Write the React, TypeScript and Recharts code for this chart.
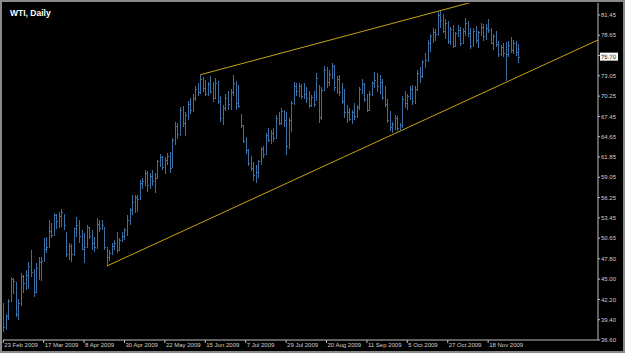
import { ComposedChart, Bar, XAxis, YAxis, ReferenceLine } from "recharts";

// WTI daily bars, 23 Feb 2009 .. early Dec 2009 (one entry per bar)
const opens = [
  40.1, 38.4, 39.9, 42.0, 45.0, 44.5, 40.2, 41.7, 45.4, 44.4,
  45.5, 46.8, 46.0, 43.2, 46.5, 47.4, 47.5, 49.2, 49.5, 51.6,
  51.2, 53.8, 53.0, 53.7, 53.9, 51.3, 48.5, 49.5, 48.4, 52.0,
  52.5, 51.0, 49.2, 49.5, 51.8, 51.0, 50.0, 49.5, 52.6, 52.0,
  52.1, 49.2, 48.0, 48.6, 49.6, 50.0, 49.0, 50.4, 51.0, 51.8,
  53.2, 54.5, 55.6, 56.3, 56.0, 58.3, 58.6, 59.6, 58.0, 59.2,
  58.6, 59.0, 61.3, 61.8, 60.5, 61.5, 62.0, 60.5, 64.2, 66.1,
  65.0, 68.3, 66.5, 67.6, 69.2, 68.4, 70.0, 71.3, 70.8, 72.6,
  71.4, 70.6, 71.9, 71.0, 70.0, 72.1, 69.6, 67.2, 68.6, 70.0,
  69.1, 70.8, 72.0, 69.3, 67.4, 65.9, 64.1, 62.8, 61.0, 60.4,
  59.3, 59.8, 61.3, 62.6, 62.3, 64.9, 64.2, 65.2, 64.5, 67.3,
  66.6, 68.2, 67.0, 63.4, 66.9, 69.3, 71.6, 71.0, 71.7, 70.3,
  70.6, 70.0, 69.0, 70.1, 70.0, 71.6, 67.4, 71.1, 73.9, 72.2,
  73.3, 74.4, 71.5, 72.6, 70.8, 69.6, 68.0, 68.1, 67.1, 68.0,
  67.5, 68.7, 71.2, 71.9, 69.9, 68.3, 70.6, 72.0, 72.5, 71.6,
  72.2, 70.1, 69.2, 66.9, 66.0, 66.4, 67.2, 65.8, 66.2, 69.8,
  69.3, 70.2, 71.3, 69.6, 71.3, 73.4, 73.0, 75.0, 75.2, 77.6,
  78.5, 79.1, 78.8, 81.4, 80.8, 79.3, 80.3, 77.8, 79.5, 77.2,
  78.9, 79.4, 77.6, 79.2, 80.4, 79.0, 77.2, 79.2, 78.0, 79.1,
  79.8, 78.5, 79.6, 79.4, 77.6, 78.5, 77.4, 76.0, 77.0, 76.2,
  76.0, 77.3, 76.6, 77.6, 76.3,
];

const highs = [
  41.7, 40.2, 42.3, 45.3, 45.2, 44.6, 42.3, 45.8, 45.6, 46.3,
  47.3, 49.0, 46.4, 47.2, 48.1, 48.0, 50.7, 50.8, 53.2, 52.7,
  54.1, 54.0, 54.3, 54.7, 54.0, 51.5, 50.0, 49.8, 52.1, 53.6,
  53.2, 51.8, 51.4, 52.5, 52.2, 51.8, 50.8, 53.4, 53.1, 53.2,
  52.2, 49.4, 49.0, 50.0, 50.4, 51.5, 50.7, 51.5, 52.1, 53.9,
  54.8, 56.6, 56.6, 56.6, 58.7, 59.0, 60.0, 59.9, 59.6, 60.0,
  59.6, 61.5, 62.2, 62.0, 61.9, 62.4, 62.6, 64.5, 66.7, 66.6,
  68.8, 68.9, 68.0, 69.6, 70.0, 70.6, 71.6, 72.0, 73.2, 72.9,
  72.5, 72.2, 73.0, 72.2, 72.8, 72.3, 70.2, 69.0, 70.6, 71.0,
  71.2, 73.2, 72.4, 71.8, 67.8, 66.2, 64.6, 62.9, 62.0, 61.1,
  60.8, 61.5, 63.2, 63.3, 65.2, 65.9, 65.6, 65.8, 67.6, 68.0,
  68.6, 68.4, 68.0, 67.3, 69.6, 72.2, 72.0, 72.1, 71.9, 72.1,
  71.5, 70.9, 70.4, 71.0, 73.4, 71.8, 71.5, 74.4, 74.3, 73.8,
  74.8, 74.6, 73.0, 73.1, 72.0, 71.3, 69.0, 68.6, 68.3, 69.3,
  69.0, 71.5, 72.6, 72.1, 70.6, 70.9, 72.4, 73.6, 73.4, 73.1,
  72.6, 71.7, 69.8, 68.2, 66.7, 67.7, 67.5, 66.6, 70.2, 71.0,
  70.6, 71.7, 71.8, 71.6, 73.8, 74.3, 75.2, 76.2, 78.0, 78.8,
  79.6, 79.5, 81.9, 82.0, 81.6, 80.9, 80.6, 79.8, 80.1, 79.1,
  80.0, 79.8, 79.6, 81.0, 80.6, 79.7, 79.6, 79.9, 79.3, 80.3,
  80.2, 80.2, 80.9, 79.6, 78.8, 79.2, 77.8, 77.3, 77.6, 77.7,
  77.8, 78.4, 78.0, 77.9, 77.4,
];

const lows = [
  37.7, 38.0, 39.3, 41.9, 43.0, 39.8, 39.4, 41.3, 43.1, 43.5,
  43.6, 45.3, 42.6, 43.1, 44.9, 44.7, 47.4, 48.6, 49.4, 50.7,
  51.0, 51.9, 52.0, 52.2, 51.8, 48.1, 47.6, 47.4, 48.2, 50.8,
  50.0, 49.0, 47.2, 49.4, 50.6, 49.0, 48.7, 49.2, 51.5, 51.8,
  49.0, 46.8, 47.5, 48.3, 49.0, 48.6, 48.9, 50.1, 50.4, 51.0,
  52.4, 53.9, 54.1, 54.3, 55.9, 57.5, 57.8, 57.0, 57.4, 57.8,
  56.9, 58.8, 60.5, 60.0, 59.5, 60.8, 59.7, 60.3, 63.5, 64.3,
  64.8, 66.0, 64.8, 67.0, 67.8, 68.0, 69.6, 70.3, 70.6, 70.8,
  70.2, 70.3, 70.6, 69.5, 69.8, 69.2, 66.7, 66.2, 68.2, 68.4,
  68.3, 70.2, 68.4, 68.6, 65.9, 63.8, 62.3, 60.6, 59.9, 58.6,
  58.3, 58.9, 60.8, 61.7, 62.2, 63.9, 63.6, 63.9, 64.3, 66.2,
  66.3, 66.0, 62.1, 63.0, 65.3, 69.0, 70.2, 70.1, 69.8, 69.9,
  69.3, 68.6, 68.8, 68.7, 69.6, 66.6, 67.0, 70.9, 71.4, 71.6,
  72.6, 71.0, 70.6, 70.3, 69.2, 67.3, 66.6, 66.8, 66.4, 66.9,
  67.2, 68.3, 70.6, 69.5, 68.0, 68.2, 70.2, 71.4, 70.8, 70.6,
  69.7, 68.8, 66.5, 65.4, 65.1, 65.6, 65.5, 65.6, 65.9, 68.6,
  68.4, 69.7, 69.0, 69.2, 71.0, 72.0, 72.8, 74.2, 75.0, 76.4,
  77.6, 77.9, 78.5, 79.6, 78.9, 78.2, 77.4, 77.3, 76.9, 77.0,
  78.4, 77.2, 77.4, 78.6, 78.4, 76.7, 77.0, 77.6, 76.9, 78.6,
  77.9, 78.0, 79.0, 77.4, 76.6, 77.0, 75.6, 75.8, 75.6, 72.3,
  75.6, 76.2, 76.0, 75.8, 74.8,
];

const closes = [
  38.4, 39.9, 42.0, 45.0, 44.8, 40.2, 41.7, 45.4, 44.4, 45.5,
  46.8, 46.0, 43.2, 46.5, 47.4, 47.5, 49.2, 49.5, 51.6, 51.1,
  53.8, 53.0, 53.7, 54.3, 52.4, 48.4, 49.6, 48.4, 52.0, 52.5,
  51.0, 49.2, 49.4, 52.2, 51.0, 50.0, 49.4, 52.6, 52.0, 52.5,
  49.5, 48.0, 48.6, 49.6, 50.0, 49.0, 50.4, 51.0, 51.8, 53.2,
  54.5, 55.6, 56.3, 56.0, 58.3, 58.6, 59.6, 58.0, 59.2, 58.6,
  59.0, 61.3, 61.8, 60.5, 61.5, 62.0, 60.3, 64.2, 66.1, 65.0,
  68.3, 66.5, 67.6, 69.2, 68.4, 70.0, 71.3, 70.8, 72.6, 71.4,
  70.6, 71.9, 71.0, 70.0, 72.1, 69.6, 67.2, 68.6, 70.0, 69.1,
  70.8, 72.0, 69.3, 68.9, 66.2, 64.1, 62.8, 61.0, 60.4, 59.3,
  59.8, 61.3, 62.9, 62.3, 64.9, 64.2, 65.2, 64.5, 67.3, 66.6,
  68.2, 67.0, 63.4, 66.9, 69.3, 71.6, 71.0, 71.7, 70.3, 70.6,
  70.0, 69.0, 70.1, 69.1, 72.8, 67.4, 71.1, 73.9, 72.2, 73.3,
  74.4, 71.5, 72.6, 70.8, 69.6, 68.0, 68.1, 67.1, 68.0, 67.5,
  68.7, 71.2, 71.9, 69.9, 68.3, 70.6, 72.0, 72.5, 71.6, 72.2,
  70.1, 69.2, 66.9, 66.0, 66.4, 67.2, 65.8, 66.2, 69.8, 69.3,
  70.2, 71.3, 69.6, 71.3, 73.4, 73.0, 75.0, 75.2, 77.6, 78.5,
  79.1, 78.8, 81.4, 80.8, 79.3, 80.3, 77.8, 79.5, 77.2, 78.9,
  79.4, 77.6, 79.2, 80.4, 79.0, 77.2, 79.2, 78.0, 79.1, 79.8,
  78.5, 79.6, 79.4, 77.6, 78.5, 77.4, 76.0, 77.0, 76.2, 76.0,
  77.3, 76.6, 77.6, 76.3, 75.7,
];

// bar index of each date label on the time scale
const dateTickBars = [0, 16, 32, 48, 64, 80, 96, 112, 128, 144, 160, 176, 192];
const dateLabels = [
  "23 Feb 2009", "17 Mar 2009", "8 Apr 2009", "30 Apr 2009", "22 May 2009",
  "15 Jun 2009", "7 Jul 2009", "29 Jul 2009", "20 Aug 2009", "11 Sep 2009",
  "5 Oct 2009", "27 Oct 2009", "18 Nov 2009",
];

const priceTicks = [
  36.6, 39.4, 42.2, 45.0, 47.8, 50.65, 53.45, 56.25, 59.05,
  61.85, 64.65, 67.45, 70.25, 73.05, 75.85, 78.65, 81.45,
];

// trend lines: [bar index, price] anchors
const upperTrend = [
  { bar: 78, price: 73.2 },
  { bar: 190, price: 83.63 },
];
const lowerTrend = [
  { bar: 41, price: 46.8 },
  { bar: 235.5, price: 78.0 },
];

const lastPrice = 75.7;

const data = highs.map((h, i) => ({
  i,
  o: opens[i],
  h,
  l: lows[i],
  c: closes[i],
}));

const FONT = "'Liberation Sans', Arial, sans-serif";
const BAR_COLOR = "#3a70a4";
const TREND_COLOR = "#c4a312";

const OhlcBar = (props: any) => {
  const { x, y, width, height, payload } = props;
  if (x == null || y == null || !payload) return null;
  const top = Math.min(y, y + height);
  const len = Math.abs(height);
  const cx = Math.round(x + (width || 0) / 2) + 0.5;
  const span = payload.h - payload.l || 1;
  const oy = Math.round(top + ((payload.h - payload.o) / span) * len) + 0.5;
  const cy = Math.round(top + ((payload.h - payload.c) / span) * len) + 0.5;
  return (
    <g stroke={BAR_COLOR} strokeWidth={1} shapeRendering="crispEdges">
      <line x1={cx} x2={cx} y1={top} y2={top + len} />
      <line x1={cx - 1} x2={cx} y1={oy} y2={oy} />
      <line x1={cx} x2={cx + 1} y1={cy} y2={cy} />
    </g>
  );
};

const PriceTag = (props: any) => {
  const vb = props.viewBox || {};
  const right = Math.max(vb.x, vb.x + (vb.width || 0));
  const y = vb.y;
  return (
    <g>
      <rect x={right + 2} y={y - 4} width={18} height={8} fill="#ffffff" />
      <text
        x={right + 3}
        y={y}
        dy="0.35em"
        fontSize={6}
        fontFamily={FONT}
        fill="#000000"
      >
        {lastPrice.toFixed(2)}
      </text>
    </g>
  );
};

export default function App() {
  return (
    <div
      style={{
        position: "absolute",
        left: 0,
        top: 0,
        width: 625,
        height: 353,
        boxSizing: "border-box",
        border: "2px solid #8a8a8a",
        background: "#000",
      }}
    >
      <div
        style={{
          position: "absolute",
          left: 8,
          top: 7,
          fontFamily: FONT,
          fontWeight: "bold",
          fontSize: 8.5,
          lineHeight: "9px",
          color: "#ffffff",
        }}
      >
        WTI, Daily
      </div>
      <ComposedChart
        width={621}
        height={349}
        data={data}
        margin={{ top: 1, right: 2, left: 1, bottom: 0 }}
      >
        <XAxis
          type="number"
          dataKey="i"
          domain={[-0.1, 235.5]}
          allowDataOverflow
          ticks={dateTickBars}
          interval={0}
          tickFormatter={(v: number) => dateLabels[dateTickBars.indexOf(v)] ?? ""}
          height={11}
          tickSize={3}
          tickMargin={0}
          stroke="#c0c0c0"
          tick={{ fill: "#cfcfcf", fontSize: 6, fontFamily: FONT, textAnchor: "start", dx: 1 }}
        />
        <YAxis
          orientation="right"
          domain={[36.6, 83.1]}
          allowDataOverflow
          ticks={priceTicks}
          interval={0}
          width={23}
          tickSize={2}
          tickMargin={1}
          stroke="#c0c0c0"
          tickFormatter={(v: number) => v.toFixed(2)}
          tick={{ fill: "#cfcfcf", fontSize: 6, fontFamily: FONT }}
        />
        <Bar
          dataKey={(d: any) => [d.l, d.h]}
          shape={<OhlcBar />}
          isAnimationActive={false}
        />
        <ReferenceLine
          segment={upperTrend.map((p) => ({ x: p.bar, y: p.price }))}
          stroke={TREND_COLOR}
          strokeWidth={1}
          ifOverflow="hidden"
        />
        <ReferenceLine
          segment={lowerTrend.map((p) => ({ x: p.bar, y: p.price }))}
          stroke={TREND_COLOR}
          strokeWidth={1}
          ifOverflow="hidden"
        />
        <ReferenceLine
          y={lastPrice}
          stroke="none"
          ifOverflow="visible"
          label={<PriceTag />}
        />
      </ComposedChart>
    </div>
  );
}
